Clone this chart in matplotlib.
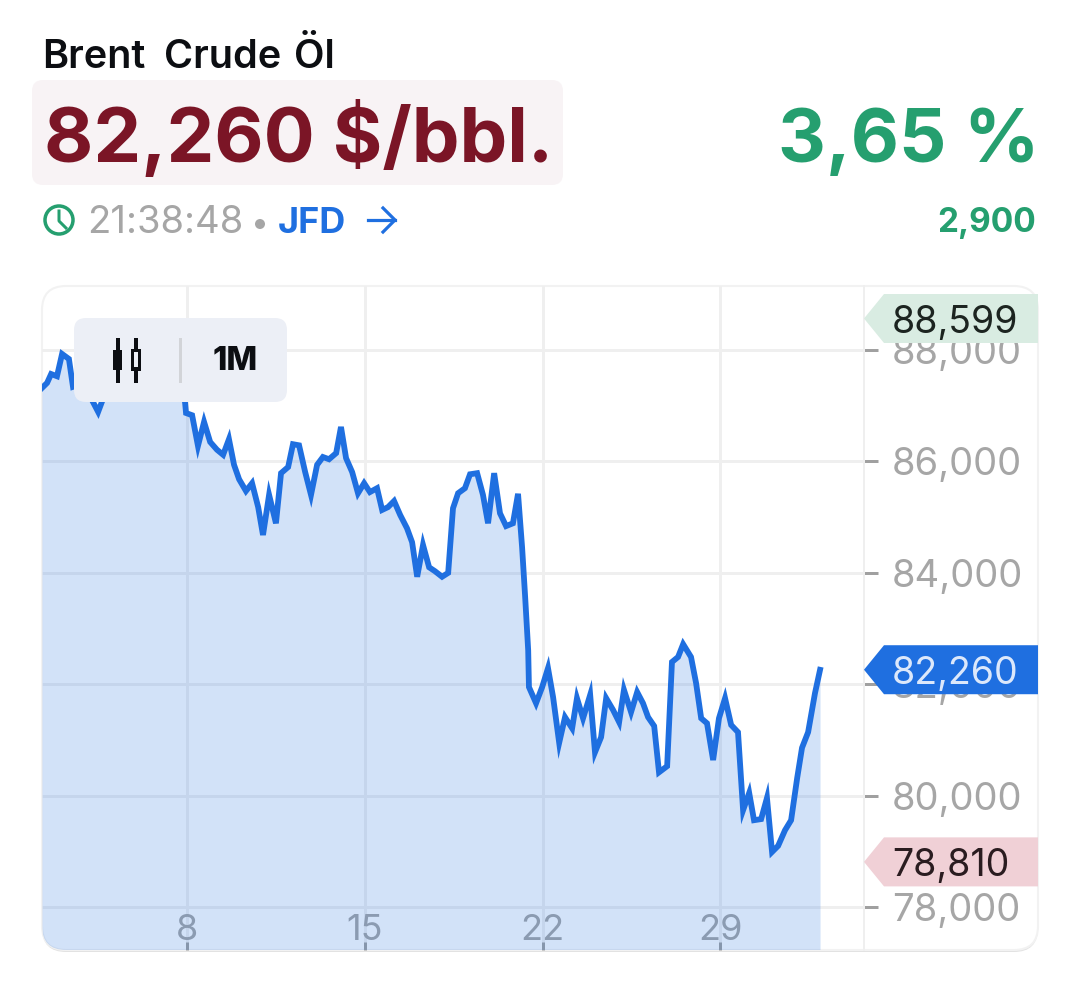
import matplotlib
matplotlib.use('Agg')
import matplotlib.pyplot as plt
from matplotlib.patches import FancyBboxPatch, Polygon, Circle

plt.rcParams['font.family'] = ['Inter', 'DejaVu Sans']

# Data (day of month, price in thousands of a dollar unit)
days = [2.29, 2.49, 2.65, 2.88, 3.08, 3.35, 3.51, 3.71, 3.94, 4.18, 4.50, 4.73, 5.05, 5.36, 5.68, 5.99,
        6.31, 6.62, 6.94, 7.25, 7.57, 7.76, 7.92, 7.96, 8.20, 8.43, 8.67, 8.91, 9.18, 9.42, 9.65, 9.85,
        10.05, 10.32, 10.56, 10.80, 10.99, 11.23, 11.50, 11.70, 11.98, 12.17, 12.41, 12.65, 12.88, 13.12,
        13.35, 13.59, 13.87, 14.06, 14.26, 14.50, 14.73, 14.97, 15.20, 15.48, 15.68, 15.91, 16.15, 16.39,
        16.66, 16.86, 17.06, 17.29, 17.53, 17.76, 18.04, 18.28, 18.47, 18.67, 18.94, 19.14, 19.42, 19.65,
        19.85, 20.09, 20.32, 20.56, 20.83, 21.03, 21.19, 21.31, 21.43, 21.46, 21.74, 21.98, 22.21, 22.41,
        22.65, 22.88, 23.16, 23.35, 23.59, 23.87, 24.06, 24.30, 24.50, 24.77, 25.01, 25.20, 25.48, 25.72,
        25.95, 26.15, 26.39, 26.58, 26.90, 27.09, 27.33, 27.53, 27.84, 28.04, 28.24, 28.47, 28.71, 28.94,
        29.18, 29.42, 29.69, 29.89, 30.13, 30.32, 30.60, 30.83, 31.03, 31.27, 31.54, 31.78, 32.02, 32.21,
        32.45, 32.72, 32.92]
prices = [87.32, 87.41, 87.57, 87.53, 87.93, 87.84, 87.34, 87.37, 87.25, 87.17, 86.89, 87.17, 87.32, 87.46, 87.53, 87.43,
          87.53, 87.61, 87.46, 87.53, 87.39, 87.25, 87.07, 86.87, 86.83, 86.28, 86.71, 86.35, 86.21, 86.12, 86.40, 85.94,
          85.68, 85.47, 85.61, 85.18, 84.68, 85.40, 84.89, 85.79, 85.90, 86.31, 86.29, 85.81, 85.40, 85.94,
          86.08, 86.04, 86.15, 86.62, 86.06, 85.81, 85.43, 85.61, 85.45, 85.52, 85.13, 85.18, 85.29, 85.04,
          84.80, 84.55, 83.93, 84.50, 84.10, 84.03, 83.93, 84.00, 85.16, 85.43, 85.52, 85.77, 85.79, 85.40,
          84.89, 85.79, 85.07, 84.84, 84.89, 85.42, 84.46, 83.57, 82.61, 81.95, 81.66, 81.95, 82.29, 81.77,
          80.95, 81.41, 81.21, 81.75, 81.39, 81.81, 80.78, 81.05, 81.75, 81.54, 81.32, 81.90, 81.50, 81.86,
          81.66, 81.41, 81.25, 80.42, 80.53, 82.40, 82.49, 82.72, 82.49, 82.02, 81.39, 81.30, 80.64, 81.39,
          81.75, 81.27, 81.14, 79.74, 80.05, 79.56, 79.58, 79.96, 78.99, 79.10, 79.38, 79.56, 80.32, 80.86,
          81.14, 81.84, 82.26]
x_ticks = [8, 15, 22, 29]
y_ticks = [78, 80, 82, 84, 86, 88]
y_labels = ['78,000', '80,000', '82,000', '84,000', '86,000', '88,000']
tag_values = [88.599, 82.260, 78.810]
tag_labels = ['88,599', '82,260', '78,810']

W, H = 1080, 986
BLUE = '#1f6fe0'
GREEN = '#259f6f'
GREY = '#a6a6a6'
INK = '#0c0e12'


def px(n):
    # pixels to points at dpi 100
    return n * 0.72


def py(price):
    return 350 + (88 - price) * 55.7


fig = plt.figure(figsize=(W / 100, H / 100), dpi=100, facecolor='white')

# background layer in pixel coordinates
bg = fig.add_axes([0, 0, 1, 1], zorder=0)
bg.set_xlim(0, W)
bg.set_ylim(H, 0)
bg.axis('off')
# soft shadow under the card
bg.add_patch(FancyBboxPatch((42, 288), 996, 664, boxstyle='round,pad=0,rounding_size=24',
                            fc='#e2e2e2', ec='none'))
card = FancyBboxPatch((42, 286), 996, 664, boxstyle='round,pad=0,rounding_size=24',
                      fc='white', ec='#f2f2f2', lw=1.5)
bg.add_patch(card)

# chart axes
ax = fig.add_axes([42 / W, 1 - 950 / H, 822 / W, 664 / H], zorder=1)
ax.patch.set_alpha(0)
ax.set_xlim(2.29, 34.65)
ax.set_ylim(77.23, 89.15)
ax.fill_between(days, prices, 77.23, color=BLUE, alpha=0.2, lw=0, clip_path=card, zorder=2)
ax.plot(days, prices, color=BLUE, lw=px(5.8), solid_joinstyle='miter', zorder=3)
ax.set_xticks(x_ticks)
ax.set_xticklabels([str(t) for t in x_ticks])
ax.set_yticks(y_ticks)
ax.set_yticklabels(y_labels)
ax.yaxis.tick_right()
ax.grid(True, color='#efefef', lw=px(3))
ax.set_axisbelow(True)
ax.tick_params(axis='x', direction='in', length=px(8), width=px(3), color='#a0a0a0',
               labelcolor=GREY, labelsize=26, pad=-26)
ax.tick_params(axis='y', length=px(14), width=px(3), color='#a0a0a0',
               labelcolor=GREY, labelsize=27.5, pad=px(14))
for side in ['top', 'left', 'bottom']:
    ax.spines[side].set_visible(False)
ax.spines['right'].set_color('#efefef')
ax.spines['right'].set_linewidth(px(2))

# top layer: header, controls and price tags
top = fig.add_axes([0, 0, 1, 1], zorder=2)
top.set_xlim(0, W)
top.set_ylim(H, 0)
top.axis('off')

# title words are placed one by one because the original has wide word gaps
for word, x in zip(['Brent', 'Crude', 'Öl'], [42, 164, 294]):
    top.text(x, 68, word, fontsize=28.5, fontweight='semibold', color=INK, va='baseline')
top.add_patch(FancyBboxPatch((32, 80), 531, 105, boxstyle='round,pad=0,rounding_size=11', fc='#f8f3f5', ec='none'))
top.text(44, 162, '82,260 $/bbl.', fontsize=54.6, fontweight='bold', color='#7b1526', va='baseline')
top.text(1039, 162, '3,65 %', fontsize=53.5, fontweight='bold', color=GREEN, va='baseline', ha='right')
top.text(87, 233, '21:38:48', fontsize=27.5, color=GREY, va='baseline')
top.add_patch(Circle((260, 224), 5, fc=GREY, ec='none'))
top.text(278, 233, 'JFD', fontsize=26, fontweight='bold', color=BLUE, va='baseline')
top.text(1036, 232, '2,900', fontsize=24, fontweight='bold', color=GREEN, va='baseline', ha='right')

# clock icon
top.add_patch(Circle((59, 220), 14, fc='none', ec=GREEN, lw=px(3.5)))
top.plot([59, 59, 66], [211, 221, 228], color=GREEN, lw=px(3))
# arrow icon
top.plot([368, 395], [220, 220], color=BLUE, lw=px(3.2))
top.plot([383, 395, 383], [208, 220, 232], color=BLUE, lw=px(3.2))

# timeframe control, the right candle is hollow so its wick stops at the body
top.add_patch(FancyBboxPatch((74, 318), 213, 84, boxstyle='round,pad=0,rounding_size=12', fc='#eceff6', ec='none'))
top.plot([118, 118], [340, 381], color=INK, lw=px(4))
top.add_patch(plt.Rectangle((113, 350), 9, 20, fc=INK, ec='none'))
top.plot([135.5, 135.5], [340, 350], color=INK, lw=px(4))
top.plot([135.5, 135.5], [369, 381], color=INK, lw=px(4))
top.add_patch(plt.Rectangle((132, 350), 7, 19, fc='#eceff6', ec=INK, lw=px(3)))
top.plot([180, 180], [339, 381], color='#d2d4d8', lw=px(3))
top.text(235, 361, '1M', fontsize=23.5, fontweight='heavy', color=INK, ha='center', va='center')

# price tags at the right edge
tag_colors = ['#d9ece2', BLUE, '#f0d0d6']
tag_text = ['#1c2420', '#dce8fb', '#2a1c20']
for value, label, fc, tc in zip(tag_values, tag_labels, tag_colors, tag_text):
    y = max(py(value), 318.5)
    top.add_patch(Polygon([(864, y), (884, y - 24.5), (1038, y - 24.5), (1038, y + 24.5), (884, y + 24.5)],
                          closed=True, fc=fc, ec='none'))
    top.text(892, y + 4, label, fontsize=27, color=tc, va='center')

fig.savefig('out.png', dpi=100)
